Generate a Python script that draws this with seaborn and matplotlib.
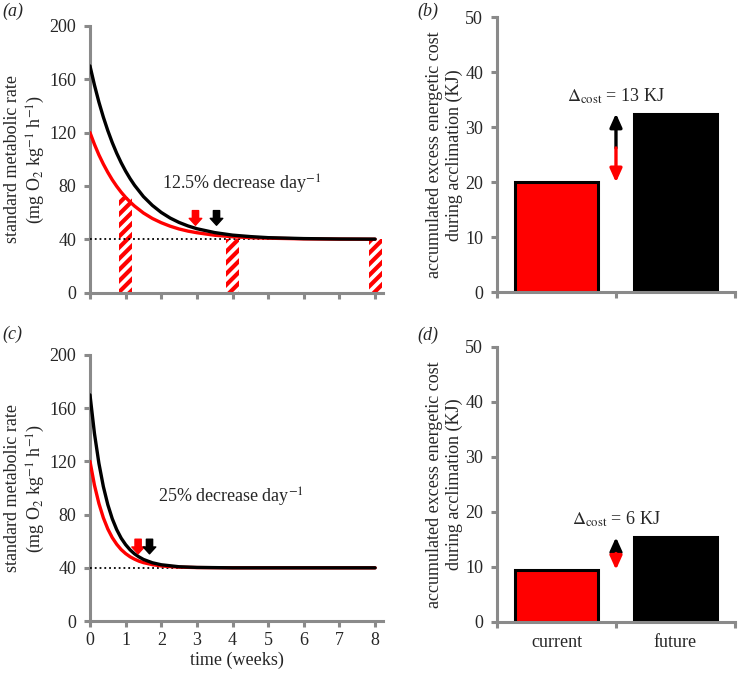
import numpy as np
import pandas as pd
import seaborn as sns

import matplotlib.pyplot as plt

# ---- data ----
# (a) 12.5 % decrease per day
weeks_a = [0, 0.125, 0.25, 0.375, 0.5, 0.625, 0.75, 0.875, 1, 1.125, 1.25, 1.5, 1.75, 2,
           2.25, 2.5, 2.75, 3, 3.5, 4, 4.5, 5, 6, 7, 8]
future_a = [170, 155.7, 142.9, 131.6, 121.5, 112.5, 104.5, 97.4, 91.1, 85.5, 80.5, 72.0, 65.4, 60.1,
            55.9, 52.6, 50.0, 47.9, 45.0, 43.1, 42.0, 41.2, 40.5, 40.2, 40.1]
current_a = [120, 111.2, 103.3, 96.4, 90.2, 84.6, 79.7, 75.3, 71.4, 68.0, 64.9, 59.7, 55.6, 52.4,
             49.8, 47.7, 46.1, 44.9, 43.0, 41.9, 41.2, 40.8, 40.3, 40.1, 40.0]
hatch_weeks = [1, 4, 8]
hatch_heights = [72, 40, 40]
arrows_a = {'red': 2.96, 'black': 3.55}

# (c) 25 % decrease per day
weeks_c = [0, 0.125, 0.25, 0.375, 0.5, 0.625, 0.75, 0.875, 1, 1.125, 1.25, 1.375, 1.5, 1.75,
           2, 2.5, 3, 4, 5, 6, 7, 8]
future_c = [170, 141.1, 118.6, 101.1, 87.5, 76.9, 68.7, 62.3, 57.4, 53.5, 50.5, 48.2, 46.3, 43.8,
            42.3, 40.8, 40.3, 40.0, 40, 40, 40, 40]
current_c = [120, 102.2, 88.4, 77.6, 69.2, 62.7, 57.7, 53.7, 50.7, 48.3, 46.5, 45.0, 43.9, 42.4,
             41.4, 40.5, 40.2, 40.0, 40, 40, 40, 40]
arrows_c = {'red': 1.35, 'black': 1.67}

baseline = 40

# (b), (d) accumulated cost
scenarios = ['current', 'future']
cost_b = [20.0, 32.5]
cost_d = [9.5, 15.4]
delta_b = 13
delta_d = 6

GREY = '#8a8a8a'
FS = 13
bar_colors = {'current': '#ff0000', 'future': 'black'}

sns.set_style('ticks')
plt.rcParams['font.family'] = ['Liberation Serif', 'DejaVu Serif']
plt.rcParams['mathtext.fontset'] = 'stix'
plt.rcParams['hatch.linewidth'] = 3.0
plt.rcParams['hatch.color'] = 'red'

fig = plt.figure(figsize=(7.4, 6.74), dpi=100)
ax_a = fig.add_axes([0.1216, 0.5659, 0.3959, 0.3956])
ax_c = fig.add_axes([0.1216, 0.0786, 0.3959, 0.3947])
ax_b = fig.add_axes([0.6716, 0.5663, 0.3216, 0.408])
ax_d = fig.add_axes([0.6716, 0.0772, 0.3216, 0.408])


def style(ax):
    sns.despine(ax=ax)
    for s in ['left', 'bottom']:
        ax.spines[s].set_color(GREY)
        ax.spines[s].set_linewidth(2.2)
    ax.tick_params(which='both', width=2.2, length=4, color=GREY, labelsize=FS, pad=4)
    ax.tick_params(axis='y', pad=6)


def rate_panel(ax, weeks, cur, fut, arrows, label, tx, ty, show_x):
    ax.plot([0, 8], [baseline, baseline], ls=':', color='black', lw=1.3, zorder=3)
    sns.lineplot(x=weeks, y=cur, color='#ff0000', lw=2.4, ax=ax, zorder=4)
    sns.lineplot(x=weeks, y=fut, color='black', lw=2.4, ax=ax, zorder=5)
    for col, t in arrows.items():
        ax.annotate('', xy=(t, 50.5), xytext=(t, 61.5),
                    arrowprops=dict(arrowstyle='simple,head_length=0.55,head_width=1.0,tail_width=0.5',
                                    color='red' if col == 'red' else 'black', mutation_scale=9,
                                    shrinkA=0, shrinkB=0), zorder=6)
    ax.text(tx, ty, label, ha='center', va='center', fontsize=FS)
    ax.set_xlim(0, 8.22)
    ax.set_ylim(0, 200)
    ax.set_yticks([0, 40, 80, 120, 160, 200])
    ax.set_xticks(range(9))
    if not show_x:
        ax.set_xticklabels([])
    else:
        ax.set_xlabel('time (weeks)', fontsize=FS, labelpad=2)
    ax.set_ylabel('standard metabolic rate\n(mg O$_2$ kg$^{-1}$ h$^{-1}$)', fontsize=FS)
    ax.yaxis.set_label_coords(-0.147, 0.5)
    style(ax)


ax_a.bar(hatch_weeks, hatch_heights, width=0.37, facecolor='white', edgecolor='red',
         linewidth=0, hatch='///', zorder=2)
rate_panel(ax_a, weeks_a, current_a, future_a, arrows_a, '12.5% decrease day$^{-1}$', 4.25, 81, False)
rate_panel(ax_c, weeks_c, current_c, future_c, arrows_c, '25% decrease day$^{-1}$', 3.96, 93, True)


def cost_panel(ax, costs, delta, show_x):
    df = pd.DataFrame({'scenario': scenarios, 'cost': costs})
    sns.barplot(data=df, x='scenario', y='cost', hue='scenario', palette=bar_colors, saturation=1,
                width=0.7, edgecolor='black', linewidth=2.2, legend=False, ax=ax)
    mid = (costs[0] + costs[1]) / 2
    for col, end in [('black', costs[1]), ('red', costs[0])]:
        ax.annotate('', xy=(0.5, end), xytext=(0.5, mid),
                    arrowprops=dict(arrowstyle='-|>,head_length=0.8,head_width=0.36', color=col,
                                    lw=2.4, mutation_scale=10, shrinkA=0, shrinkB=0))
    ax.text(0.5, costs[1] + 3.2, r'$\Delta_{\rm cost}$' + ' = %d KJ' % delta,
            ha='center', va='center', fontsize=FS)
    ax.set_xlim(-0.5, 1.5)
    ax.set_ylim(0, 50)
    ax.set_yticks(range(0, 51, 10))
    ax.set_xticks([-0.5, 0.5, 1.5], minor=True)
    ax.set_xticks([0, 1])
    ax.set_xticklabels(scenarios if show_x else ['', ''])
    ax.set_xlabel('')
    ax.set_ylabel('accumulated excess energetic cost\nduring acclimation (KJ)', fontsize=FS)
    ax.yaxis.set_label_coords(-0.142, 0.5)
    style(ax)
    ax.tick_params(axis='x', which='major', length=0, pad=9)


cost_panel(ax_b, cost_b, delta_b, False)
cost_panel(ax_d, cost_d, delta_d, True)

for x, y, s in [(2, 11.5, '(a)'), (417, 11.5, '(b)'), (2, 334.5, '(c)'), (417, 335, '(d)')]:
    fig.text(x / 740, 1 - y / 674, s, style='italic', fontsize=FS, va='center', ha='left')

fig.savefig('out.png', dpi=100)
